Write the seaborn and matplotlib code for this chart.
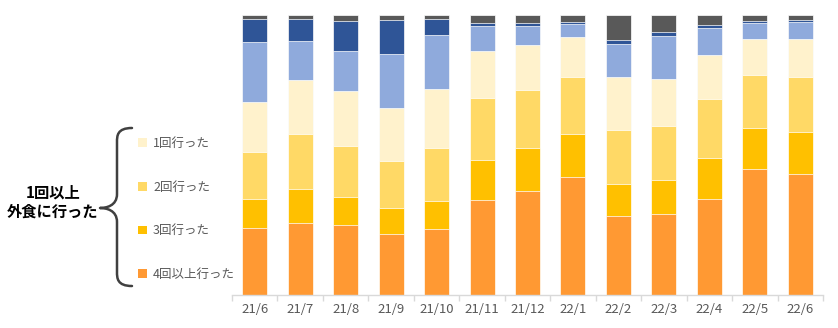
import numpy as np
import pandas as pd
import matplotlib
matplotlib.use("Agg")
import matplotlib.pyplot as plt
import seaborn as sns
from matplotlib.path import Path
from matplotlib.patches import PathPatch, Patch

months = ["21/6", "21/7", "21/8", "21/9", "21/10", "21/11", "21/12",
          "22/1", "22/2", "22/3", "22/4", "22/5", "22/6"]

# shares (%), bottom to top
four_plus = [23.8, 25.8, 25.0, 21.6, 23.5, 34.0, 37.2, 42.1, 28.2, 29.0, 34.1, 44.9, 43.0]
three     = [10.5, 11.9, 10.1,  9.3, 10.0, 14.3, 15.1, 15.2, 11.5, 11.9, 14.6, 14.7, 15.1]
two       = [16.9, 19.6, 18.2, 16.9, 19.0, 22.1, 21.0, 20.5, 19.3, 19.4, 21.3, 18.7, 19.6]
one       = [17.6, 19.5, 19.6, 19.0, 20.8, 16.8, 15.9, 14.1, 18.7, 16.9, 15.6, 12.8, 13.4]
none_a    = [21.5, 13.9, 14.3, 19.3, 19.1,  8.9,  6.8,  4.6, 11.9, 15.2,  9.5,  5.9,  6.1]
none_b    = [ 8.1,  7.6, 10.7, 12.0,  5.9,  1.1,  1.1,  0.8,  1.5,  1.4,  1.1,  0.5,  0.8]
other     = [ 1.7,  1.7,  2.1,  1.9,  1.5,  2.9,  2.9,  2.6,  8.9,  6.2,  3.8,  2.4,  1.9]

series_names = ["4回以上行った", "3回行った", "2回行った", "1回行った",
                "行かなかった(A)", "行かなかった(B)", "その他"]
series_vals = [four_plus, three, two, one, none_a, none_b, other]
colors = ["#FF9933", "#FFC000", "#FFD966", "#FFF2CC", "#8FAADC", "#2F5597", "#595959"]

df = pd.DataFrame(dict(zip(series_names, series_vals)), index=months)
df = df.div(df.sum(axis=1), axis=0) * 100
cum = df.cumsum(axis=1)

sns.set_theme(style="white")
plt.rcParams["font.family"] = ["Noto Sans CJK JP", "DejaVu Sans"]

fig = plt.figure(figsize=(8.38, 3.28), dpi=100)
ax = fig.add_axes([232 / 838, 1 - 295 / 328, (823 - 232) / 838, (295 - 14.7) / 328])

# draw from top cumulative down so lower segments overlay
for name, col in reversed(list(zip(series_names, colors))):
    d = pd.DataFrame({"month": months, "val": cum[name].values})
    sns.barplot(data=d, x="month", y="val", order=months, color=col,
                saturation=1, width=0.55, errorbar=None, ax=ax,
                edgecolor="white", linewidth=0.5)

ax.set_ylim(0, 100)
ax.set_xlim(-0.5, len(months) - 0.5)
ax.set_xlabel("")
ax.set_ylabel("")
ax.set_yticks([])
for s in ["top", "right", "left"]:
    ax.spines[s].set_visible(False)
ax.spines["bottom"].set_color("#D9D9D9")
ax.spines["bottom"].set_linewidth(1)
ax.set_xticks(np.arange(-0.5, len(months), 1.0), minor=True)
ax.tick_params(axis="x", which="minor", bottom=True, length=4, color="#D9D9D9", width=1)
ax.tick_params(axis="x", which="major", bottom=False, length=0, pad=6,
               labelsize=9.5, labelcolor="#595959")

# legend (only the four "went" categories)
handles = [Patch(facecolor=colors[i], edgecolor="none") for i in [3, 2, 1, 0]]
labels = [series_names[i] for i in [3, 2, 1, 0]]
fig.legend(handles, labels, loc="upper left", bbox_to_anchor=(138 / 838, 1 - 137 / 328),
           frameon=False, fontsize=9, labelcolor="#595959",
           handlelength=0.7, handleheight=0.7, handletextpad=0.5,
           labelspacing=2.45, borderaxespad=0, borderpad=0)

# brace and group label
ov = fig.add_axes([0, 0, 1, 1], facecolor="none")
ov.set_xlim(0, 838)
ov.set_ylim(328, 0)
ov.axis("off")
xe, xl, xt = 132, 117, 100
yt, ym, yb = 128, 208, 286
verts = [(xe, yt), (xl, yt), (xl, yt + 8), (xl, yt + 14),
         (xl, ym - 14),
         (xl, ym - 2), (xt + 6, ym), (xt, ym),
         (xt + 6, ym), (xl, ym + 2), (xl, ym + 14),
         (xl, yb - 14),
         (xl, yb - 8), (xl, yb), (xe, yb)]
codes = [Path.MOVETO, Path.CURVE4, Path.CURVE4, Path.CURVE4,
         Path.LINETO,
         Path.CURVE4, Path.CURVE4, Path.CURVE4,
         Path.CURVE4, Path.CURVE4, Path.CURVE4,
         Path.LINETO,
         Path.CURVE4, Path.CURVE4, Path.CURVE4]
ov.add_patch(PathPatch(Path(verts, codes), facecolor="none", edgecolor="#404040",
                       lw=1.8, capstyle="round", joinstyle="round"))
ov.text(53, 202, "1回以上\n外食に行った", ha="center", va="center",
        fontsize=11, fontweight="bold", color="#000000", linespacing=1.2)

fig.savefig("out.png", dpi=100)
